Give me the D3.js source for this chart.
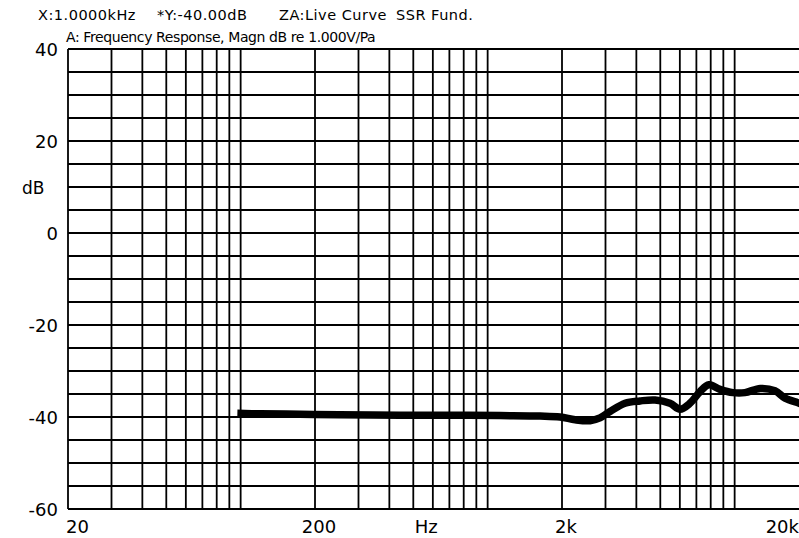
<!DOCTYPE html>
<html><head><meta charset="utf-8">
<script src="https://cdn.jsdelivr.net/npm/d3@7"></script>
<style>
html,body{margin:0;padding:0;background:#fff;overflow:hidden}
svg{display:block;font-family:"DejaVu Sans",Verdana,sans-serif}
</style></head>
<body>
<svg id="c" width="799" height="538"></svg>
<script>
const freqs = [97, 120, 174, 250, 442, 700, 1122, 1630, 1964, 2260, 2600, 2850, 3130, 3600, 4140, 4760, 5470, 6010, 6600, 7240, 7870, 8730, 9840, 11000, 12700, 14560, 16000, 18240, 20000];
const magnitudeDb = [-39.2, -39.3, -39.4, -39.5, -39.6, -39.6, -39.7, -39.8, -40.0, -40.6, -40.8, -40.2, -38.8, -37.0, -36.5, -36.3, -37.0, -38.3, -37.0, -34.5, -33.0, -34.0, -34.7, -34.7, -33.8, -34.3, -35.9, -37.0, -37.8];
const xTickValues = [20, 200, 2000, 20000];
const xTickLabels = ["20", "200", "2k", "20k"];
const yTickValues = [40, 20, 0, -20, -40, -60];
const headerItems = ["X:1.0000kHz", "*Y:-40.00dB", "ZA:Live Curve", "SSR Fund."];
const subtitle = "A: Frequency Response, Magn dB re 1.000V/Pa";

(function () {
const svg = d3.select("#c");
const W = 799;
const pL = 68, pT = 49, pB = 509;
const x = d3.scaleLog().domain([20, 20000]).range([pL, pL + 3 * 247]);
const y = d3.scaleLinear().domain([-60, 40]).range([pB, pT]);

// header
const hx = [38, 157, 279, 396];
headerItems.forEach((t, i) => {
  svg.append("text").attr("x", hx[i]).attr("y", 20).attr("font-size", 14.5)
    .attr("letter-spacing", 0.5).attr("fill", "#000").text(t);
});
svg.append("text").attr("x", 66).attr("y", 41.5).attr("font-size", 14)
  .attr("letter-spacing", -0.4).attr("fill", "#000").text(subtitle);

const g = svg.append("g");
const hLines = d3.range(-60, 41, 5);
g.selectAll("line.h").data(hLines).enter().append("line")
  .attr("x1", pL).attr("x2", W).attr("y1", d => y(d)).attr("y2", d => y(d))
  .attr("stroke", "#000").attr("stroke-width", 1.8);
const vLines = [];
[10, 100, 1000].forEach(dec => {
  for (let m = 1; m <= 9; m++) {
    const f = m * dec;
    if (f >= 20 && f <= 10000) vLines.push(f);
  }
});
vLines.push(10000);
g.selectAll("line.v").data(vLines).enter().append("line")
  .attr("x1", d => x(d)).attr("x2", d => x(d)).attr("y1", pT).attr("y2", pB)
  .attr("stroke", "#000").attr("stroke-width", 1.8);

svg.selectAll("text.yl").data(yTickValues).enter().append("text")
  .attr("x", 58).attr("y", d => y(d) + 6.5).attr("text-anchor", "end")
  .attr("font-size", 18).attr("fill", "#000").text(d => d);
svg.append("text").attr("x", 22).attr("y", y(10) + 6.5).attr("font-size", 17).attr("fill", "#000").text("dB");

xTickValues.forEach((v, i) => {
  let px = x(v), anchor = "middle";
  if (i === 0) { anchor = "start"; px = px - 2; }
  else if (i === xTickValues.length - 1) { anchor = "end"; px = W; }
  else px = px + 4;
  svg.append("text").attr("x", px).attr("y", 533).attr("text-anchor", anchor)
    .attr("font-size", 18).attr("fill", "#000").text(xTickLabels[i]);
});
svg.append("text").attr("x", x(200) + (x(2000) - x(200)) * 0.45).attr("y", 533)
  .attr("text-anchor", "middle").attr("font-size", 18).attr("fill", "#000").text("Hz");

const data = freqs.map((f, i) => ({ f, v: magnitudeDb[i] }));
const line = d3.line().x(d => x(d.f)).y(d => y(d.v)).curve(d3.curveCatmullRom.alpha(0.5));
svg.append("path").datum(data).attr("d", line)
  .attr("fill", "none").attr("stroke", "#000").attr("stroke-width", 7.5)
  .attr("stroke-linejoin", "round").attr("stroke-linecap", "butt");
})();
</script>
</body></html>
